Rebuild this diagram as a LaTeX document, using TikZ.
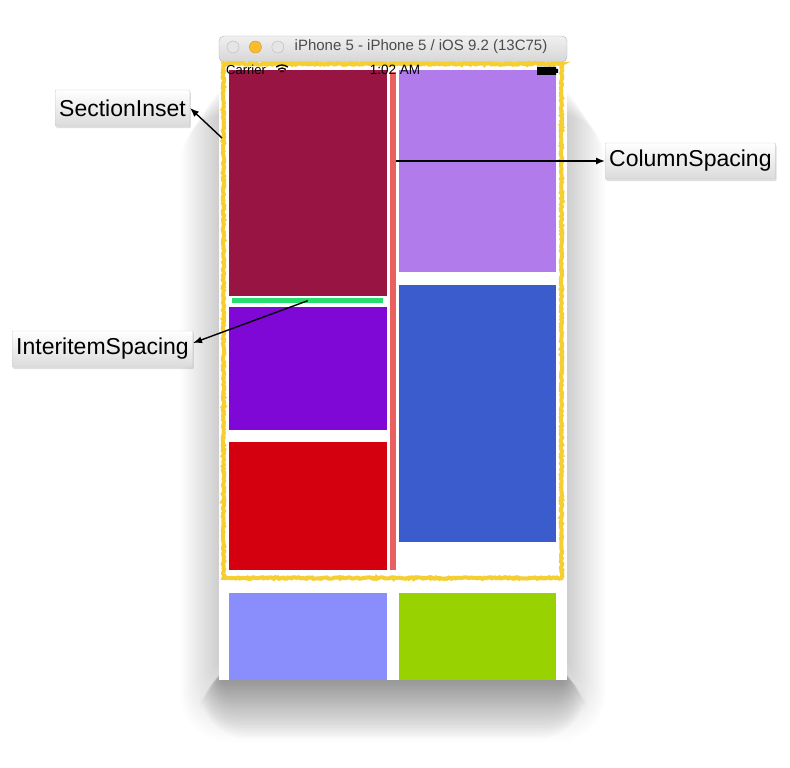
\documentclass[tikz,border=0pt]{standalone}
\usepackage{fontspec}
\setmainfont{Liberation Sans}
\usetikzlibrary{arrows.meta,positioning,shadows,decorations.pathmorphing}
\definecolor{wine}{RGB}{152,20,66}
\definecolor{lilac}{RGB}{178,123,236}
\definecolor{violet}{RGB}{128,8,214}
\definecolor{scarlet}{RGB}{212,0,16}
\definecolor{royal}{RGB}{58,92,204}
\definecolor{periwinkle}{RGB}{138,142,253}
\definecolor{lime}{RGB}{152,210,0}
\definecolor{inset}{RGB}{245,206,50}
\definecolor{gapred}{RGB}{232,96,96}
\definecolor{gapgreen}{RGB}{40,222,110}
\definecolor{barlight}{RGB}{240,240,240}
\definecolor{bardark}{RGB}{214,214,214}
\definecolor{amber}{RGB}{253,188,46}

\begin{document}
\begin{tikzpicture}[x=1pt,y=-1pt,>={Latex[length=9pt,width=7pt]},
  every node/.style={font=\fontsize{23}{25}\selectfont},
  cell/.style={anchor=north west,inner sep=0,minimum width=158pt},
  tag/.style={draw=gray!40,rounded corners=1pt,top color=white,bottom color=gray!28,inner xsep=4pt,minimum height=36pt,drop shadow={opacity=0.25,shadow xshift=1pt,shadow yshift=-2pt}},
  light/.style={circle,draw=gray!55,fill=gray!20,minimum size=12pt,inner sep=0},
  rough/.style={decorate,decoration={random steps,segment length=1.5pt,amplitude=0.8pt}},
  pointer/.style={->,line width=1.4pt}]
  \useasboundingbox (0,0) rectangle (790,768);
  % window shadow
  \foreach \i in {1,...,24}
    \fill[black,opacity=0.0095,rounded corners=2*\i] ({219-1.6*\i},{90+\i}) rectangle ({567+1.6*\i},{660+3.4*\i});
  \foreach \i in {1,...,24}
    \fill[black,opacity=0.015,rounded corners=2*\i] ({224-\i},{668}) rectangle ({562+\i},{676+2.6*\i});
  % window
  \fill[white] (219,62) rectangle (567,680);
  \draw[gray!60,top color=barlight,bottom color=bardark,rounded corners=5pt] (219,62) -- (219,36) -- (567,36) -- (567,62) -- cycle;
  \node[light] (close) at (233,47) {};
  \node[light,right=10pt of close,fill=amber,draw=amber!80!black] (mini) {};
  \node[light,right=10pt of mini] (zoom) {};
  \node[font=\fontsize{15}{17}\selectfont,text=black!70] (title) at (421,47) {iPhone 5 - iPhone 5 / iOS 9.2 (13C75)};
  % cells
  \node[cell,fill=wine,minimum height=226pt] (c1) at (229,70) {};
  \node[cell,fill=lilac,minimum height=202pt,minimum width=157pt] (c2) at (399,70) {};
  \node[cell,fill=violet,minimum height=123pt] (c3) at (229,307) {};
  \node[cell,fill=scarlet,minimum height=128pt] (c4) at (229,442) {};
  \node[cell,fill=royal,minimum height=257pt,minimum width=157pt] (c5) at (399,285) {};
  \node[cell,fill=periwinkle,minimum height=87pt] (c6) at (229,593) {};
  \node[cell,fill=lime,minimum height=87pt,minimum width=157pt] (c7) at (399,593) {};
  % spacing marks
  \draw[inset,line width=4pt,rough] (223.5,64) rectangle (561.5,578);
  \node[anchor=north west,inner sep=0,fill=gapred,minimum width=6pt,minimum height=498pt] (colgap) at (390,72) {};
  \node[anchor=north west,inner sep=0,fill=gapgreen,minimum width=151pt,minimum height=5pt] (itemgap) at (232,298) {};
  \coordinate (insetedge) at (222,138);
  % status bar
  \node[anchor=west,inner sep=0,font=\fontsize{13}{15}\selectfont] (carrier) at (226,70) {Carrier};
  \foreach \r in {3,6,9}
    \draw[line width=1.3pt] (282,74) ++(230:\r) arc (230:310:\r);
  \node[inner sep=0,font=\fontsize{13.5}{15}\selectfont] (clock) at (395,70) {1:02 AM};
  \fill (537,67) rectangle (556,75) (556,69) rectangle (558,73);
  % labels
  \node[tag,anchor=east] (secinset) at (190,108) {SectionInset};
  \node[tag,anchor=west] (colspace) at (605,161) {ColumnSpacing};
  \node[tag,anchor=east] (interitem) at (193,349) {InteritemSpacing};
  \draw[pointer] (insetedge) -- (secinset.east);
  \draw[pointer] (colgap.east |- colspace.west) -- (colspace.west);
  \draw[pointer] (itemgap.center) -- ([yshift=6pt]interitem.east);
\end{tikzpicture}
\end{document}
